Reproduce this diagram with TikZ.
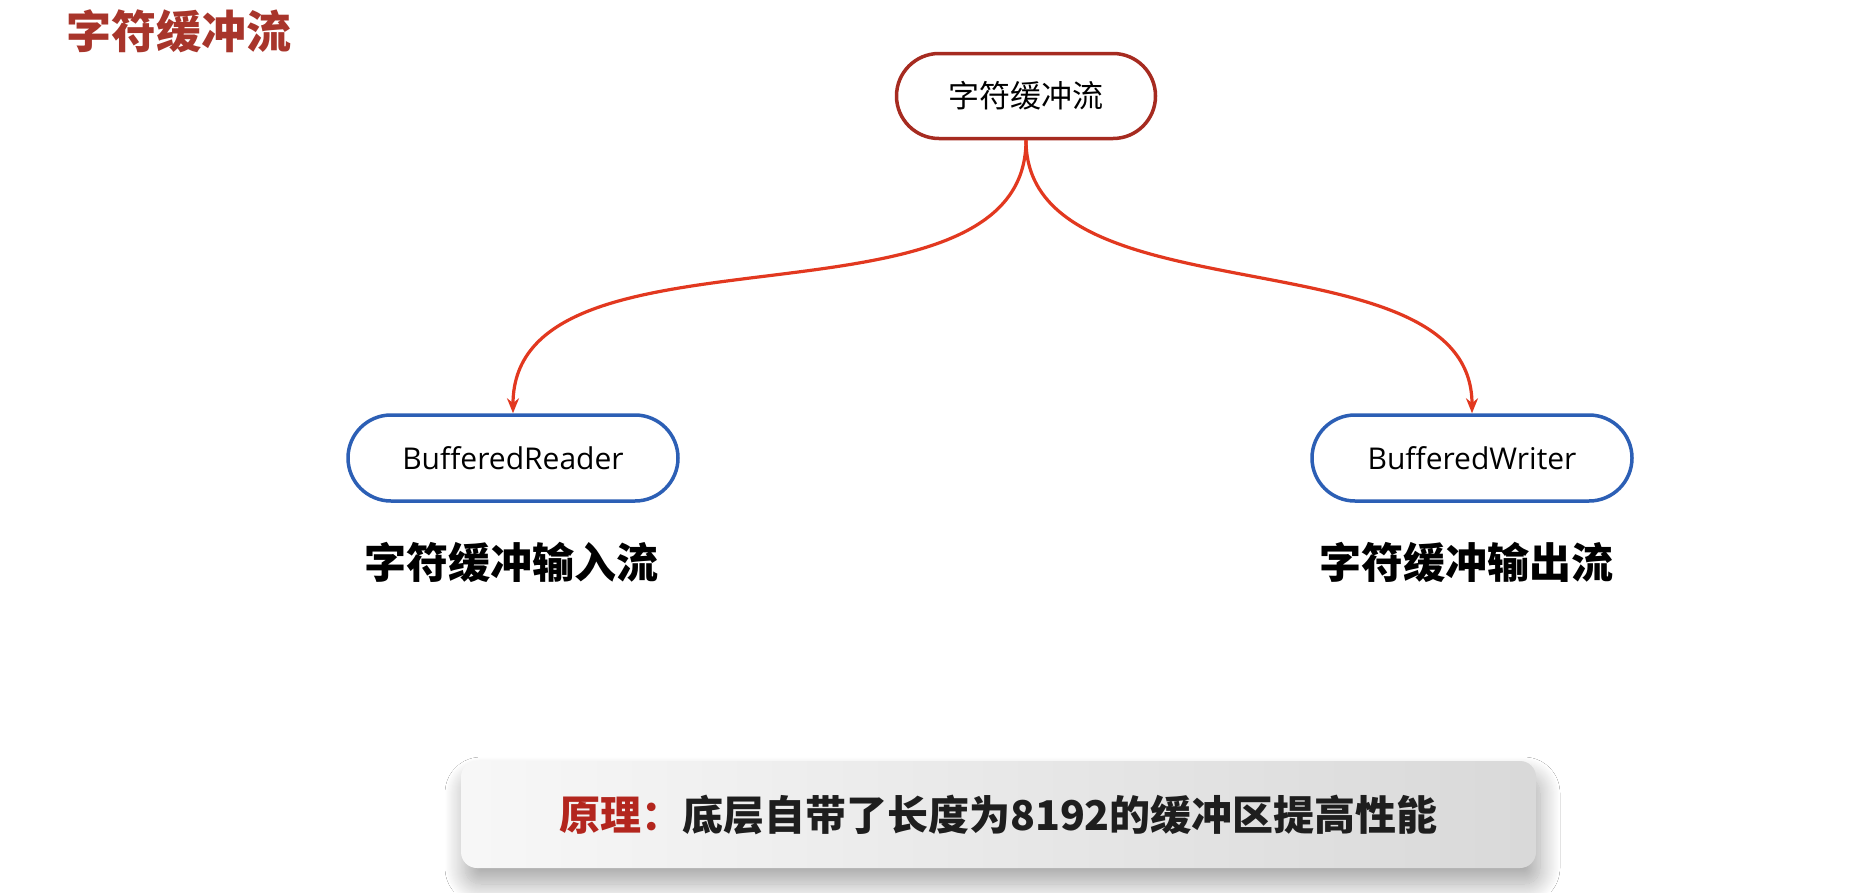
\documentclass[tikz,border=0pt]{standalone}
\usepackage{fontspec}
\setmainfont{Noto Sans CJK SC}
\newfontfamily\cjkblack{Noto Sans CJK SC Black}
\newfontfamily\latinsans{Open Sans}
\usetikzlibrary{arrows.meta, shapes.misc, shadows.blur}

\definecolor{titlered}{HTML}{A8352B}
\definecolor{rootred}{HTML}{A62B20}
\definecolor{flowred}{HTML}{E2381F}
\definecolor{leafblue}{HTML}{2C5FB5}
\definecolor{notered}{HTML}{B3261E}
\definecolor{notetext}{HTML}{1E1E1E}

\tikzset{rootbox/.style={rounded rectangle, draw=rootred, line width=3.5pt,
    minimum width=259pt, minimum height=85pt, inner sep=0pt,
    font=\fontsize{31}{36}\selectfont}}
\tikzset{leafbox/.style={rounded rectangle, draw=leafblue, line width=3.5pt,
    minimum height=86pt, inner sep=0pt,
    font=\latinsans\fontsize{30}{36}\selectfont}}
\tikzset{flow/.style={draw=flowred, line width=3.2pt,
    -{Stealth[length=15pt, width=12pt]}}}
\tikzset{streamlabel/.style={font=\cjkblack\fontsize{42}{48}\selectfont}}
\tikzset{notebox/.style={rectangle, rounded corners=16pt, draw=none,
    left color=white!97!black, right color=black!15,
    minimum width=1075pt, minimum height=107pt,
    blur shadow={shadow xshift=4pt, shadow yshift=-16pt,
      shadow blur radius=20pt, shadow blur steps=20, shadow opacity=35},
    font=\bfseries\fontsize{41}{48}\selectfont, text=notetext}}

\begin{document}
\begin{tikzpicture}[x=1pt, y=-1pt]
  \useasboundingbox[fill=white] (0,0) rectangle (1853,892);

  \node[text=titlered, font=\bfseries\fontsize{45}{50}\selectfont]
    (title) at (179,31) {字符缓冲流};

  \node[rootbox] (root) at (1026,96) {字符缓冲流};
  \node[leafbox, minimum width=330pt] (reader) at (513,458) {BufferedReader};
  \node[leafbox, minimum width=320pt] (writer) at (1472,458) {BufferedWriter};

  \node[streamlabel] (readerlabel) at (511,562) {字符缓冲输入流};
  \node[streamlabel] (writerlabel) at (1466,562) {字符缓冲输出流};

  \draw[flow] (root.south) to[out=-90, in=90, looseness=0.9] (reader.north);
  \draw[flow] (root.south) to[out=-90, in=90, looseness=0.9] (writer.north);

  % note at the bottom
  \node[notebox] (note) at (998.5,814.5)
    {{\color{notered}原理：}底层自带了长度为8192的缓冲区提高性能};
\end{tikzpicture}
\end{document}
